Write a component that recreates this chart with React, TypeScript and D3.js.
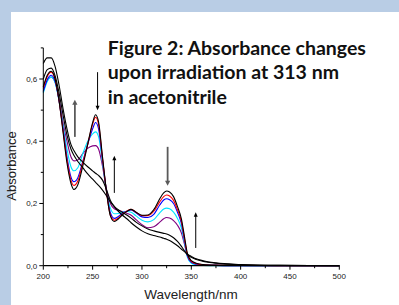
import React from "react";
import * as d3 from "d3";

const wavelengths = [200,204,208,212,216,220,224,228,231,235,240,245,250,253,256,260,264,268,272,276,280,285,289,294,300,306,312,318,322,325,328,332,336,340,343,346,350,355,362,375,400,440,500];

const sPurple = [.56,.595,.606,.59,.535,.46,.4,.35,.337,.34,.36,.377,.385,.386,.375,.32,.245,.2,.183,.178,.174,.168,.162,.148,.132,.122,.125,.14,.151,.155,.153,.145,.13,.105,.07,.033,.014,.007,.003,.001,0,0,0];
const sCyan = [.555,.592,.606,.588,.53,.45,.375,.318,.305,.315,.36,.4,.424,.43,.415,.33,.24,.185,.167,.168,.172,.174,.172,.16,.146,.141,.148,.17,.182,.185,.183,.172,.152,.12,.075,.028,.008,.003,.001,0,0,0,0];
const sBlue = [.56,.598,.612,.592,.53,.44,.35,.285,.27,.283,.335,.39,.44,.46,.44,.34,.24,.17,.152,.158,.168,.176,.179,.17,.157,.155,.165,.195,.211,.215,.212,.2,.172,.135,.082,.032,.011,.005,.002,.001,0,0,0];
const sRed = [.57,.608,.622,.598,.53,.435,.34,.275,.258,.272,.33,.39,.455,.477,.455,.345,.238,.162,.146,.153,.165,.176,.181,.172,.161,.161,.175,.205,.222,.227,.224,.21,.18,.142,.088,.036,.013,.006,.003,.001,.001,0,0];
const sBlack0 = [.575,.612,.625,.60,.53,.43,.33,.265,.245,.26,.32,.39,.46,.485,.462,.35,.24,.16,.142,.15,.163,.175,.181,.172,.162,.163,.18,.215,.234,.24,.237,.222,.19,.15,.095,.04,.016,.008,.004,.002,.001,0,0];
const sBlackEnd1 = [.6,.63,.635,.61,.555,.485,.42,.375,.355,.335,.315,.295,.278,.268,.258,.243,.225,.205,.19,.18,.172,.162,.153,.14,.128,.118,.112,.107,.104,.102,.098,.09,.078,.062,.048,.036,.027,.02,.014,.008,.003,.001,0];
const sBlackEnd2 = [.65,.668,.668,.64,.58,.505,.44,.39,.37,.35,.333,.318,.305,.297,.29,.275,.245,.21,.19,.175,.163,.15,.138,.125,.112,.103,.097,.092,.088,.085,.081,.073,.064,.053,.045,.037,.03,.022,.016,.009,.004,.001,0];

const seriesNames = ["purple", "cyan", "blue", "red", "black0", "blackEnd1", "blackEnd2"];
const seriesValues = [sPurple, sCyan, sBlue, sRed, sBlack0, sBlackEnd1, sBlackEnd2];
const seriesColors = ["#800080", "#00e5ff", "#0000ff", "#ff0000", "#000000", "#000000", "#000000"];

const xTicks = [200, 250, 300, 350, 400, 450, 500];
const xMinorTicks = [225, 275, 325, 375, 425, 475];
const yTicks = [0, 0.2, 0.4, 0.6];
const yMinorTicks = [0.1, 0.3, 0.5, 0.7];
const yTickLabels = ["0,0", "0,2", "0,4", "0,6"];

// arrows: wavelength, from absorbance, to absorbance, heavy(grey) flag
const arrowNm = [232, 255, 272, 326, 354.5];
const arrowFrom = [0.414, 0.622, 0.234, 0.382, 0.057];
const arrowTo = [0.533, 0.5, 0.353, 0.257, 0.172];
const arrowHeavy = [true, false, false, true, false];

const titleLines = ["Figure 2: Absorbance changes", "upon irradiation at 313 nm", "in acetonitrile"];

export default function App() {
  const W = 399, H = 305;
  const x = d3.scaleLinear().domain([200, 500]).range([43.3, 339.3]);
  const y = d3.scaleLinear().domain([0, 0.7]).range([265.7, 47.9]);
  const line = d3.line<number>()
    .x((_, i) => x(wavelengths[i]))
    .y((v) => y(v))
    .curve(d3.curveMonotoneX);

  const arrowHead = (xp: number, yTip: number, dir: number, heavy: boolean) => {
    const hw = heavy ? 2.6 : 2.0;
    const hl = heavy ? 5 : 4.5;
    return `M${xp},${yTip} L${xp - hw},${yTip - dir * hl} L${xp + hw},${yTip - dir * hl} Z`;
  };

  return (
    <svg width={W} height={H} style={{ position: "absolute", left: 0, top: 0 }}>
      <rect x={0} y={0} width={W} height={H} fill="#b9cde5" />
      <rect x={11} y={12} width={W - 11} height={H - 12} fill="#ffffff" />

      {seriesValues.map((vals, i) => (
        <path key={seriesNames[i]} d={line(vals) || ""} fill="none" stroke={seriesColors[i]} strokeWidth={1.1} />
      ))}

      {/* axes */}
      <line x1={x(200)} x2={x(200)} y1={y(0)} y2={y(0.7)} stroke="#000" strokeWidth={1} />
      <line x1={x(200)} x2={x(500)} y1={y(0)} y2={y(0)} stroke="#000" strokeWidth={1.2} />
      {yTicks.map((t) => (
        <line key={"yt" + t} x1={x(200) - 4} x2={x(200)} y1={y(t)} y2={y(t)} stroke="#000" />
      ))}
      {yMinorTicks.map((t) => (
        <line key={"ym" + t} x1={x(200) - 2.5} x2={x(200)} y1={y(t)} y2={y(t)} stroke="#000" />
      ))}
      {xTicks.map((t) => (
        <line key={"xt" + t} x1={x(t)} x2={x(t)} y1={y(0)} y2={y(0) + 4} stroke="#000" />
      ))}
      {xMinorTicks.map((t) => (
        <line key={"xm" + t} x1={x(t)} x2={x(t)} y1={y(0)} y2={y(0) + 2.5} stroke="#000" />
      ))}
      {yTicks.map((t, i) => (
        <text key={"yl" + t} x={x(200) - 6} y={y(t) + 3} textAnchor="end" fontFamily="Liberation Sans, Arial, sans-serif" fontSize={8} fill="#222">{yTickLabels[i]}</text>
      ))}
      {xTicks.map((t) => (
        <text key={"xl" + t} x={x(t)} y={y(0) + 13} textAnchor="middle" fontFamily="Liberation Sans, Arial, sans-serif" fontSize={8} fill="#222">{t}</text>
      ))}
      <text x={191} y={299} textAnchor="middle" fontFamily="Liberation Sans, Arial, sans-serif" fontSize={13.5} fill="#222">Wavelength/nm</text>
      <text transform={`translate(16,166) rotate(-90)`} textAnchor="middle" fontFamily="Liberation Sans, Arial, sans-serif" fontSize={13} fill="#222">Absorbance</text>

      {/* arrows */}
      {arrowNm.map((nm, i) => {
        const xp = x(nm);
        const y1 = y(arrowFrom[i]);
        const y2 = y(arrowTo[i]);
        const dir = y2 > y1 ? 1 : -1;
        const heavy = arrowHeavy[i];
        const hl = heavy ? 5 : 4.5;
        return (
          <g key={"ar" + i}>
            <line x1={xp} x2={xp} y1={y1} y2={y2 - dir * hl * 0.8} stroke={heavy ? "#5a5a5a" : "#000"} strokeWidth={heavy ? 1.8 : 1} />
            <path d={arrowHead(xp, y2, dir, heavy)} fill={heavy ? "#5a5a5a" : "#000"} />
          </g>
        );
      })}

      {titleLines.map((t, i) => (
        <text key={"tt" + i} x={107.7} y={54.5 + i * 24.5} fontFamily="Lato, 'Open Sans', sans-serif" fontWeight="bold" fontSize={19.5} fill="#111">{t}</text>
      ))}
    </svg>
  );
}
